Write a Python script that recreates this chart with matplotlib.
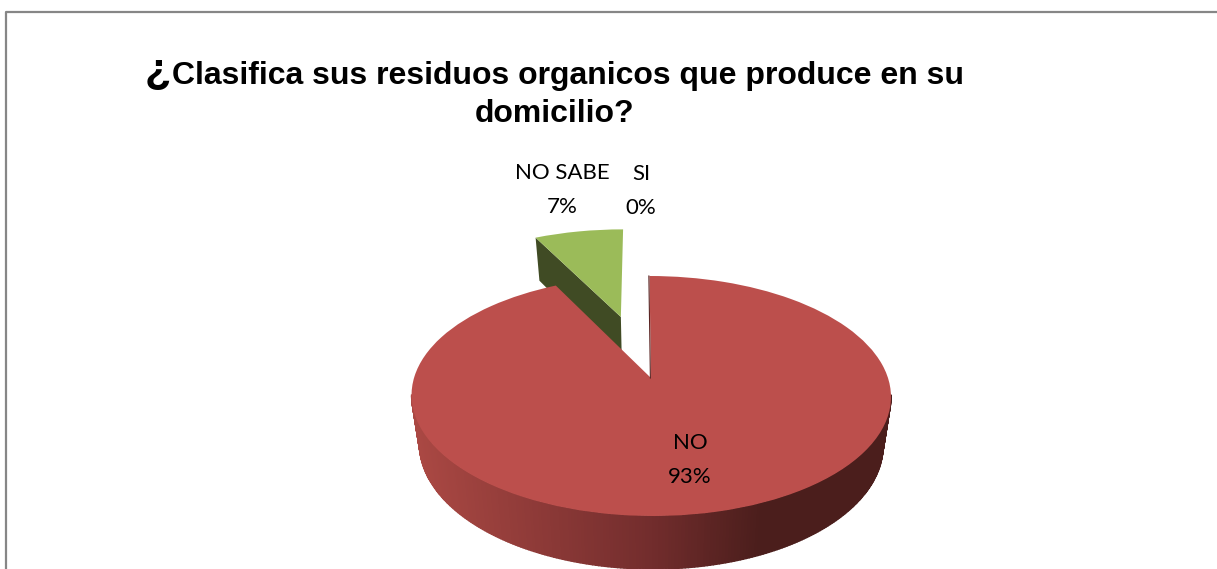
import numpy as np
import matplotlib
matplotlib.use('Agg')
import matplotlib.pyplot as plt
from matplotlib.transforms import Transform

names = ['SI', 'NO', 'NO SABE']
counts = [0, 25, 2]
colors = ['#4f81bd', '#bc4f4c', '#9bbb59']
explode = [0, 0, 0.58]
title_line1 = 'Clasifica sus residuos organicos que produce en su'
title_line2 = 'domicilio?'

W, H = 1217, 569
CX, APEX_Y = 651, 378
SX, SY, K = 237, 117.3, 0.15
LEAN = 0.015


class Tilted(Transform):
    # perspective view of the unit pie, output in pixel-sized data units
    input_dims = 2
    output_dims = 2

    def transform_non_affine(self, values):
        x, y = np.asarray(values).T
        d = 1 + K * y
        up = SY * y / d
        return np.column_stack((CX + SX * x / d - LEAN * up, APEX_Y - up))


def lower(pts):
    # same points on the underside of the disc
    x, y = pts.T
    return np.column_stack((CX + 0.967 * (x - CX), y + 43 + 0.036 * (y - 237)))


def side_colour(x):
    r = np.interp(x, [412, 650, 760], [172, 115, 75])
    g = np.interp(x, [412, 650, 760], [73, 45, 30])
    b = np.interp(x, [412, 650, 760], [68, 45, 28])
    return (r / 255, g / 255, b / 255)


fig = plt.figure(figsize=(W / 100, H / 100), dpi=100)
ax = fig.add_axes([0, 0, 1, 1])

wedges, _ = ax.pie(counts, colors=colors, explode=explode, startangle=90,
                   counterclock=False, wedgeprops={'linewidth': 0})
ax.set_aspect('auto')
ax.set_xlim(0, W)
ax.set_ylim(H, 0)
ax.axis('off')

tilt = Tilted()
for w in wedges:
    w.set_transform(tilt + ax.transData)

si, no, no_sabe = wedges

# cut face of the pulled-out slice
t = np.radians(no_sabe.theta2)
c = np.array(no_sabe.center)
face = tilt.transform(np.array([c, c + [np.cos(t), np.sin(t)]]))
face = np.vstack((face, lower(face)[::-1]))
ax.fill(face[:, 0], face[:, 1], color='#404b24', lw=0, zorder=0.5)
no_sabe.set_zorder(0.6)

# outer wall of the big slice, shaded strip by strip
angles = np.radians(np.linspace(-172, -8, 241))
rim = tilt.transform(np.column_stack((np.cos(angles), np.sin(angles))))
low = lower(rim)
for i in range(len(angles) - 1):
    poly = np.vstack((rim[i:i + 2], low[i:i + 2][::-1]))
    col = side_colour(poly[:, 0].mean())
    ax.fill(poly[:, 0], poly[:, 1], facecolor=col, edgecolor=col, lw=1.0, zorder=0.8)
no.set_zorder(1)

# thin dark edge where the big slice starts
t = np.radians(no.theta2)
edge = tilt.transform(np.array([[0, 0], [np.cos(t), np.sin(t)]]))
ax.plot(edge[:, 0] - 0.6, edge[:, 1], color='#5a2422', lw=0.8, zorder=1.1)

# chart frame
ax.plot([6, 6, W], [H, 12, 12], color='#868686', lw=1.6, zorder=2, clip_on=False)

# title
ax.text(145, 83, '¿', fontsize=31, fontweight='bold', family='Liberation Sans', ha='left', va='baseline')
ax.text(172, 84, title_line1, fontsize=23.05, fontweight='bold', family='Liberation Sans', ha='left', va='baseline')
ax.text(555, 122, title_line2, fontsize=23.05, fontweight='bold', family='Liberation Sans', ha='center', va='baseline')

# data labels
total = sum(counts)
label_pos = {'SI': (641, 191), 'NO': (690, 460), 'NO SABE': (562, 190)}
for name, n in zip(names, counts):
    x, y = label_pos[name]
    ax.text(x, y, f'{name}\n{round(100 * n / total)}%', fontsize=16, family='Lato',
            ha='center', va='center', linespacing=1.85, color='black')

fig.savefig('out.png', dpi=100)
